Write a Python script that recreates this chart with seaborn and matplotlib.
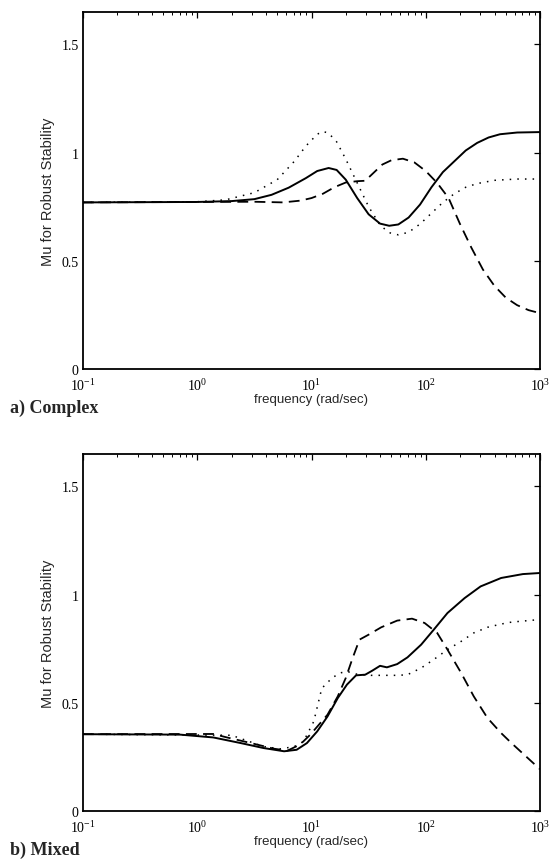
import numpy as np
import pandas as pd
import matplotlib
matplotlib.use("Agg")
import matplotlib.pyplot as plt
import seaborn as sns

# ---------------- data (log10 of frequency, mu) ----------------
# a) Complex
a_solid_logw = [-1.0, 0.0, 0.3, 0.5, 0.65, 0.8, 0.95, 1.05, 1.15, 1.22, 1.30, 1.40, 1.50, 1.60,
                1.68, 1.76, 1.85, 1.95, 2.05, 2.15, 2.25, 2.35, 2.45, 2.55, 2.65, 2.8, 3.0]
a_solid_mu = [0.770, 0.772, 0.776, 0.785, 0.805, 0.838, 0.882, 0.915, 0.929, 0.92, 0.875, 0.79,
              0.715, 0.672, 0.662, 0.668, 0.70, 0.76, 0.84, 0.91, 0.96, 1.01, 1.045, 1.07, 1.085,
              1.093, 1.095]

a_dot_logw = [-1.0, 0.0, 0.25, 0.5, 0.7, 0.85, 0.95, 1.05, 1.10, 1.15, 1.22, 1.30, 1.40, 1.50,
              1.60, 1.68, 1.76, 1.85, 1.95, 2.05, 2.15, 2.25, 2.35, 2.45, 2.6, 2.8, 3.0]
a_dot_mu = [0.770, 0.773, 0.782, 0.815, 0.875, 0.96, 1.03, 1.085, 1.098, 1.09, 1.05, 0.97, 0.86,
            0.75, 0.665, 0.63, 0.62, 0.632, 0.67, 0.72, 0.77, 0.81, 0.84, 0.857, 0.872, 0.878, 0.878]

a_dash_logw = [-1.0, 0.5, 0.75, 0.9, 1.0, 1.1, 1.2, 1.3, 1.4, 1.47, 1.55, 1.62, 1.70, 1.80, 1.90,
               2.0, 2.1, 2.2, 2.3, 2.4, 2.5, 2.6, 2.7, 2.8, 2.9, 3.0]
a_dash_mu = [0.770, 0.773, 0.770, 0.778, 0.79, 0.81, 0.84, 0.862, 0.868, 0.87, 0.91, 0.945, 0.965,
             0.972, 0.955, 0.915, 0.86, 0.79, 0.67, 0.56, 0.46, 0.385, 0.33, 0.295, 0.272, 0.258]

# b) Mixed
b_solid_logw = [-1.0, -0.15, 0.14, 0.38, 0.58, 0.76, 0.87, 0.96, 1.05, 1.14, 1.23, 1.31, 1.39,
                1.47, 1.53, 1.60, 1.66, 1.75, 1.84, 1.96, 2.07, 2.19, 2.34, 2.48, 2.66, 2.85, 3.0]
b_solid_mu = [0.355, 0.353, 0.34, 0.314, 0.291, 0.276, 0.283, 0.314, 0.368, 0.437, 0.522, 0.584,
              0.627, 0.630, 0.648, 0.671, 0.664, 0.679, 0.710, 0.769, 0.838, 0.915, 0.984, 1.038,
              1.077, 1.095, 1.10]

b_dash_logw = [-1.0, 0.14, 0.26, 0.47, 0.67, 0.79, 0.90, 0.99, 1.14, 1.23, 1.30, 1.36, 1.42, 1.50,
               1.61, 1.75, 1.88, 1.99, 2.10, 2.19, 2.31, 2.42, 2.54, 2.66, 2.75, 3.0]
b_dash_mu = [0.355, 0.356, 0.34, 0.314, 0.288, 0.279, 0.307, 0.353, 0.445, 0.53, 0.615, 0.707,
             0.792, 0.815, 0.849, 0.880, 0.889, 0.869, 0.823, 0.746, 0.638, 0.53, 0.43, 0.36,
             0.314, 0.193]

b_dot_logw = [-1.0, 0.3, 0.58, 0.73, 0.85, 0.93, 1.02, 1.09, 1.18, 1.25, 1.31, 1.40, 1.52, 1.65,
              1.76, 1.84, 1.96, 2.07, 2.19, 2.31, 2.42, 2.54, 2.66, 2.75, 3.0]
b_dot_mu = [0.355, 0.35, 0.298, 0.287, 0.298, 0.321, 0.414, 0.567, 0.615, 0.638, 0.645, 0.632,
            0.627, 0.627, 0.627, 0.630, 0.661, 0.70, 0.746, 0.784, 0.823, 0.849, 0.864, 0.873, 0.885]

y_ticks = [0, 0.5, 1, 1.5]
y_tick_labels = ["0", "0.5", "1", "1.5"]
panel_titles = ["a) Complex", "b) Mixed"]
x_label = "frequency (rad/sec)"
y_label = "Mu for Robust Stability"


def frame(series):
    rows = []
    for name, lw, mu in series:
        for l, m in zip(lw, mu):
            rows.append({"freq": 10.0 ** l, "mu": m, "case": name})
    return pd.DataFrame(rows)


df_a = frame([("solid", a_solid_logw, a_solid_mu),
              ("dash", a_dash_logw, a_dash_mu),
              ("dot", a_dot_logw, a_dot_mu)])
df_b = frame([("solid", b_solid_logw, b_solid_mu),
              ("dash", b_dash_logw, b_dash_mu),
              ("dot", b_dot_logw, b_dot_mu)])

# ---------------- style ----------------
sns.set_style("white")
plt.rcParams["font.family"] = ["Liberation Serif", "DejaVu Serif"]
plt.rcParams["mathtext.fontset"] = "custom"
plt.rcParams["mathtext.rm"] = "Liberation Serif"
plt.rcParams["mathtext.it"] = "Liberation Serif:italic"
plt.rcParams["axes.edgecolor"] = "black"
plt.rcParams["axes.linewidth"] = 1.3

W, H = 554, 862
fig = plt.figure(figsize=(W / 100, H / 100), dpi=100)

left = 83 / W
width = (540 - 83) / W
panels = [(13, 370), (455, 812)]
dashes = {"solid": "", "dash": (6, 3.5), "dot": (1, 4)}
widths = {"solid": 1.4, "dash": 1.3, "dot": 1.1}

sans = ["Liberation Sans", "DejaVu Sans"]

for (top, bot), df, title in zip(panels, [df_a, df_b], panel_titles):
    ax = fig.add_axes([left, 1 - bot / H, width, (bot - top) / H])
    for case in ["solid", "dash", "dot"]:
        sub = df[df["case"] == case]
        sns.lineplot(data=sub, x="freq", y="mu", ax=ax, color="black",
                     linewidth=widths[case], estimator=None, sort=False,
                     dashes=False, legend=False)
        line = ax.get_lines()[-1]
        if dashes[case]:
            line.set_dashes(dashes[case])
    ax.set_xscale("log")
    ax.set_xlim(0.1, 1000)
    ax.set_ylim(0, 1.65)
    ax.set_yticks(y_ticks)
    ax.set_yticklabels(y_tick_labels)
    ax.tick_params(axis="both", which="both", direction="in", top=True, right=True,
                   labelsize=10, colors="black")
    ax.tick_params(axis="x", which="major", pad=6)
    ax.tick_params(axis="y", which="major", pad=3)
    ax.tick_params(which="major", length=4, width=0.9)
    ax.tick_params(which="minor", length=2, width=0.7)
    ax.set_xlabel(x_label, fontsize=9.5, family=sans, labelpad=0)
    ax.set_ylabel(y_label, fontsize=10.5, family=sans, labelpad=2)
    ax.yaxis.set_label_coords(-0.062, 0.5)
    for s in ax.spines.values():
        s.set_visible(True)
        s.set_color("black")
    fig.text(10 / W, 1 - (bot + 38) / H, title, fontsize=13, fontweight="bold",
             family=["Liberation Serif"], va="center", ha="left")

fig.savefig("out.png", dpi=100)
